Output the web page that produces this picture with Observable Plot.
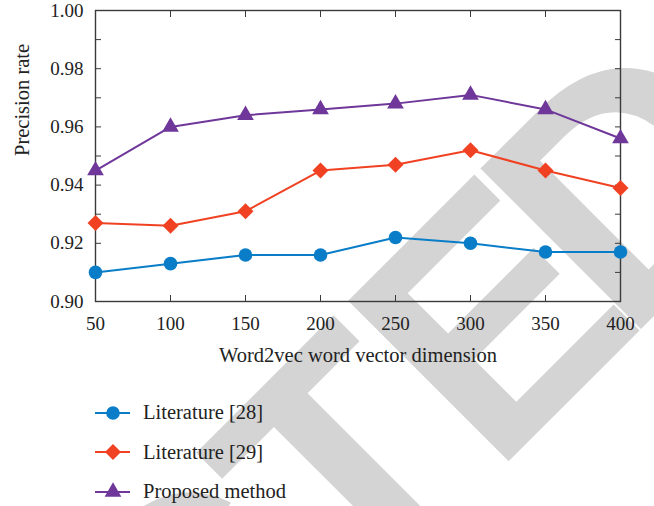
<!DOCTYPE html>
<html>
<head>
<meta charset="utf-8">
<script src="https://cdn.jsdelivr.net/npm/d3@7"></script>
<script src="https://cdn.jsdelivr.net/npm/@observablehq/plot@0.6"></script>
<style>
  html, body { margin: 0; padding: 0; background: #fff; }
  #wrap { position: relative; width: 654px; height: 506px; overflow: hidden; }
  #wm { position: absolute; left: 0; top: 0; z-index: 0; }
  #chart { position: absolute; left: 0; top: 0; z-index: 1; }
  #legend { position: absolute; left: 0; top: 393px; z-index: 1; font-family: "Liberation Serif", "Times New Roman", "DejaVu Serif", serif; font-size: 20.5px; color: #222; }
  .row { display: flex; align-items: center; height: 39.5px; padding-left: 93px; }
  .row svg { margin-right: 10px; }
</style>
</head>
<body>
<div id="wrap">
  <svg id="wm" width="654" height="506"></svg>
  <div id="chart"></div>
  <div id="legend"></div>
</div>
<script>
const dims = [50, 100, 150, 200, 250, 300, 350, 400];
const lit28 = [0.910, 0.913, 0.916, 0.916, 0.922, 0.920, 0.917, 0.917];
const lit29 = [0.927, 0.926, 0.931, 0.945, 0.947, 0.952, 0.945, 0.939];
const proposed = [0.945, 0.960, 0.964, 0.966, 0.968, 0.971, 0.966, 0.956];
const seriesNames = ["Literature [28]", "Literature [29]", "Proposed method"];
const seriesColors = ["#0a7dc8", "#f04223", "#6e3799"];
const seriesSymbols = ["circle", "diamond2", "triangle"];
const seriesR = [6.8, 7.2, 6.2];
const xTicks = [50, 100, 150, 200, 250, 300, 350, 400];
const yTicks = [0.90, 0.91, 0.92, 0.93, 0.94, 0.95, 0.96, 0.97, 0.98, 0.99, 1.00];
const yLabels = [0.90, 0.92, 0.94, 0.96, 0.98, 1.00];
const xTitle = "Word2vec word vector dimension";
const yTitle = "Precision rate";
const watermark = "RETRACTED";

const serifStack = "'Liberation Serif', 'Times New Roman', 'DejaVu Serif', serif";

const allValues = [lit28, lit29, proposed];
const rows = [];
allValues.forEach((vals, s) => vals.forEach((v, i) => rows.push({series: seriesNames[s], dim: dims[i], value: v})));

const axisColor = "#3a3a3a";
const lineMarks = [];
seriesNames.forEach((name, s) => {
  const d = rows.filter(r => r.series === name);
  lineMarks.push(Plot.line(d, {x: "dim", y: "value", stroke: seriesColors[s], strokeWidth: 2}));
});
seriesNames.forEach((name, s) => {
  const d = rows.filter(r => r.series === name);
  lineMarks.push(Plot.dot(d, {x: "dim", y: "value", fill: seriesColors[s], stroke: "none", symbol: seriesSymbols[s], r: seriesR[s]}));
});

const chart = Plot.plot({
  width: 654,
  height: 376,
  marginLeft: 95,
  marginRight: 34,
  marginTop: 10,
  marginBottom: 75,
  style: {fontFamily: serifStack, fontSize: "19px", color: "#222", background: "transparent"},
  x: {domain: [50, 400]},
  y: {domain: [0.90, 1.00]},
  marks: [
    Plot.axisX(xTicks, {anchor: "bottom", tickSize: 0, tickPadding: 15, tickFormat: d => String(d), label: null, fontSize: 19}),
    Plot.axisX(xTicks, {anchor: "bottom", tickSize: -6, tickFormat: () => "", label: null, stroke: axisColor}),
    Plot.axisX(xTicks, {anchor: "top", tickSize: -6, tickFormat: () => "", label: null, stroke: axisColor}),
    Plot.axisY(yLabels, {anchor: "left", tickSize: 0, tickPadding: 12, tickFormat: d3.format(".2f"), label: null, fontSize: 19}),
    Plot.axisY(yTicks, {anchor: "left", tickSize: -6, tickFormat: () => "", label: null, stroke: axisColor}),
    Plot.axisY(yTicks, {anchor: "right", tickSize: -6, tickFormat: () => "", label: null, stroke: axisColor}),
    Plot.frame({stroke: axisColor, strokeWidth: 1.4}),
    Plot.text([xTitle], {frameAnchor: "bottom", dy: 60, fontSize: 20.5, fill: "#222"}),
    Plot.text([yTitle], {frameAnchor: "left", dx: -73, rotate: -90, fontSize: 20.5, fill: "#222"}),
    ...lineMarks
  ]
});
document.getElementById("chart").appendChild(chart);

// watermark (behind chart), rotated -45 degrees
const wm = d3.select("#wm");
const wx = -597, wy = 1567;
wm.append("text")
  .attr("x", wx).attr("y", wy)
  .attr("dx", "0 0 0 0 0 0 0 0 -28")
  .attr("transform", `rotate(-45 ${wx} ${wy})`)
  .attr("text-anchor", "start")
  .attr("font-family", "'Liberation Sans', Arial, sans-serif")
  .attr("font-weight", "bold")
  .attr("font-size", 330)
  .attr("letter-spacing", -5)
  .attr("fill", "#d4d4d4")
  .text(watermark);

// legend
const legend = d3.select("#legend");
seriesNames.forEach((name, s) => {
  const row = legend.append("div").attr("class", "row");
  const svg = row.append("svg").attr("width", 40).attr("height", 24);
  svg.append("line").attr("x1", 2).attr("x2", 37).attr("y1", 12).attr("y2", 12)
    .attr("stroke", seriesColors[s]).attr("stroke-width", 2);
  const sym = {circle: d3.symbolCircle, diamond2: d3.symbolDiamond2, triangle: d3.symbolTriangle}[seriesSymbols[s]];
  svg.append("path").attr("transform", "translate(20,12)")
    .attr("d", d3.symbol(sym, Math.PI * seriesR[s] * seriesR[s])())
    .attr("fill", seriesColors[s]);
  row.append("span").text(name);
});
</script>
</body>
</html>
